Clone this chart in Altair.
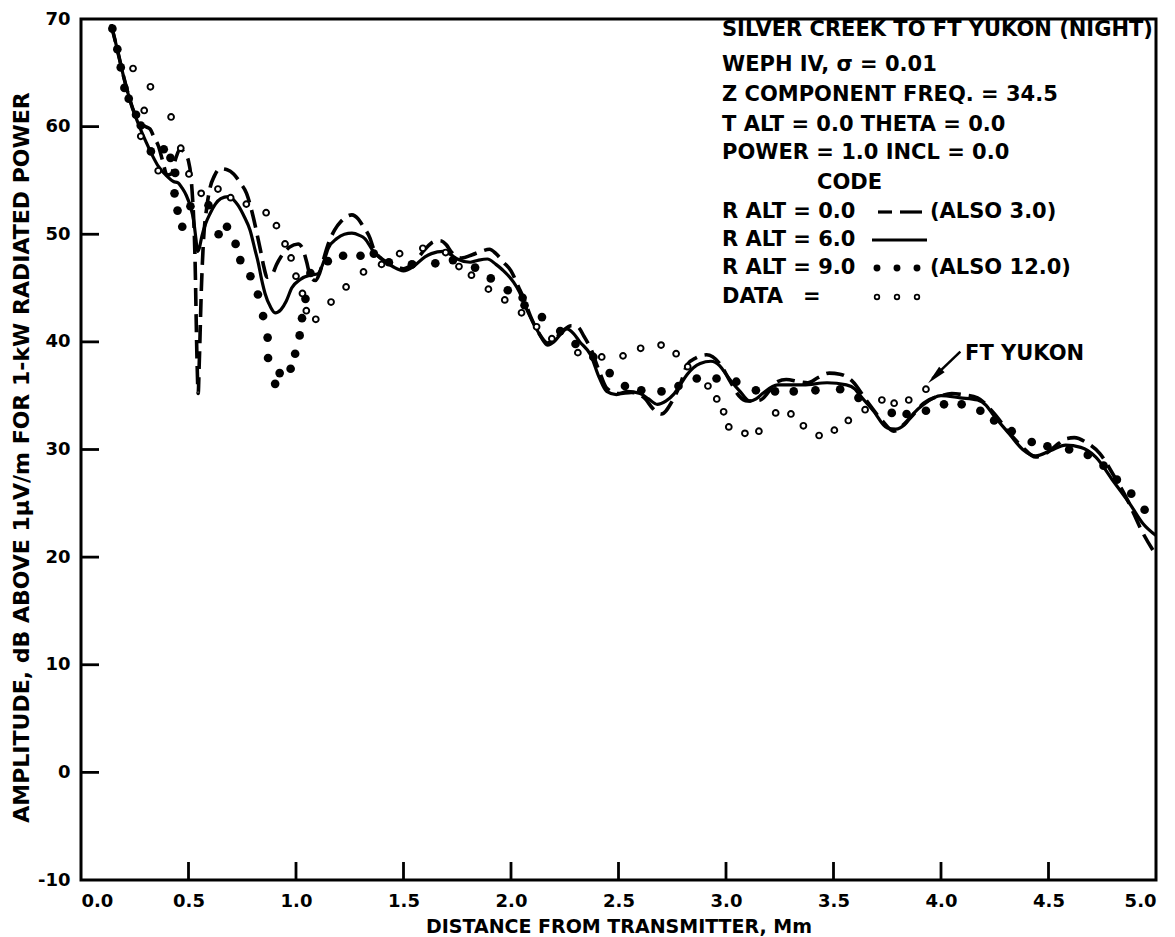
import altair as alt
import pandas as pd

# ---------------- data ----------------
# R ALT = 0.0 (dashed)
d0_x = [0.14, 0.16, 0.18, 0.20, 0.22, 0.24, 0.26, 0.28, 0.30, 0.32, 0.34, 0.36, 0.38, 0.40, 0.42,
        0.44, 0.46, 0.48, 0.50, 0.515, 0.53, 0.54, 0.545, 0.55, 0.56, 0.57, 0.585, 0.60, 0.62, 0.647,
        0.68, 0.71, 0.74, 0.77, 0.80, 0.82, 0.835, 0.85, 0.866, 0.89, 0.91, 0.93, 0.97, 1.01, 1.03,
        1.05, 1.065, 1.09, 1.11, 1.13, 1.15, 1.18, 1.21, 1.26, 1.29, 1.31, 1.345, 1.36, 1.40, 1.45,
        1.50, 1.55, 1.60, 1.64, 1.67, 1.70, 1.72, 1.77, 1.82, 1.86, 1.90, 1.93, 1.965, 2.00, 2.035,
        2.06, 2.09, 2.13, 2.17, 2.20, 2.24, 2.28, 2.31, 2.34, 2.37, 2.41, 2.445, 2.50, 2.56, 2.62,
        2.66, 2.70, 2.75, 2.79, 2.82, 2.86, 2.91, 2.97, 3.02, 3.06, 3.10, 3.16, 3.20, 3.24, 3.28,
        3.34, 3.38, 3.43, 3.48, 3.53, 3.59, 3.655, 3.73, 3.78, 3.82, 3.86, 3.92, 4.00, 4.05, 4.10,
        4.17, 4.24, 4.32, 4.38, 4.44, 4.50, 4.55, 4.58, 4.62, 4.68, 4.74, 4.80, 4.86, 4.94, 5.00]
d0_y = [69.5, 67.9, 66.2, 64.5, 63.0, 61.7, 60.8, 60.2, 60.0, 59.8, 59.0, 58.2, 56.8, 55.5, 55.6,
        57.0, 57.9, 57.6, 56.8, 54.5, 48.0, 38.0, 35.2, 38.0, 45.0, 49.5, 52.5, 54.3, 55.4, 56.1,
        56.0, 55.6, 54.8, 53.8, 51.7, 49.9, 48.5, 47.0, 46.0, 46.3, 47.2, 47.9, 48.8, 49.1, 48.7,
        47.4, 46.2, 45.7, 46.4, 47.8, 49.1, 50.4, 51.2, 51.8, 51.4, 50.8, 49.6, 48.7, 47.7, 47.2,
        46.8, 47.4, 48.6, 49.3, 49.4, 49.0, 48.4, 47.8, 48.1, 48.4, 48.6, 48.2, 47.4, 46.6, 45.1,
        44.0, 42.4, 40.8, 39.9, 40.2, 41.0, 41.5, 41.4, 40.5, 39.4, 37.3, 35.7, 35.2, 35.3, 34.8,
        33.8, 33.3, 34.5, 36.2, 37.9, 38.5, 38.8, 38.0, 36.3, 35.0, 34.5, 34.6, 35.4, 36.3, 36.5,
        36.3, 36.2, 36.7, 37.1, 37.0, 36.3, 34.5, 32.6, 31.7, 32.2, 33.0, 34.3, 35.0, 35.2, 35.1,
        34.8, 33.5, 31.5, 30.2, 29.3, 29.8, 30.6, 31.0, 31.1, 30.6, 29.6, 27.7, 25.6, 22.2, 20.2]

# R ALT = 6.0 (solid)
d6_x = [0.14, 0.16, 0.18, 0.20, 0.22, 0.24, 0.26, 0.28, 0.30, 0.33, 0.36, 0.40, 0.43, 0.45, 0.47,
        0.49, 0.51, 0.523, 0.535, 0.542, 0.55, 0.562, 0.58, 0.60, 0.625, 0.65, 0.685, 0.71, 0.73,
        0.76, 0.786, 0.81, 0.825, 0.84, 0.856, 0.88, 0.903, 0.93, 0.955, 0.98, 1.02, 1.065, 1.10,
        1.13, 1.15, 1.19, 1.225, 1.26, 1.295, 1.32, 1.36, 1.41, 1.45, 1.50, 1.546, 1.60, 1.63,
        1.685, 1.72, 1.75, 1.81, 1.85, 1.89, 1.93, 1.96, 2.01, 2.04, 2.06, 2.09, 2.13, 2.17, 2.20,
        2.23, 2.26, 2.29, 2.32, 2.37, 2.41, 2.445, 2.49, 2.54, 2.60, 2.64, 2.68, 2.72, 2.755, 2.79,
        2.82, 2.88, 2.93, 2.97, 3.00, 3.03, 3.065, 3.11, 3.14, 3.17, 3.24, 3.30, 3.36, 3.47, 3.56,
        3.60, 3.62, 3.685, 3.75, 3.79, 3.83, 3.87, 3.92, 4.00, 4.09, 4.17, 4.21, 4.24, 4.32, 4.38,
        4.44, 4.51, 4.58, 4.65, 4.72, 4.80, 4.88, 4.94, 5.00]
d6_y = [69.5, 67.9, 66.2, 64.5, 63.0, 61.7, 60.6, 59.6, 58.7, 57.4, 56.3, 55.4, 54.9, 54.8, 54.3,
        53.6, 52.5, 51.4, 49.5, 48.4, 48.7, 49.8, 51.0, 51.9, 52.8, 53.3, 53.5, 53.2, 52.7,
        51.6, 50.4, 48.5, 47.3, 45.8, 44.5, 43.3, 42.7, 43.0, 43.8, 45.0, 45.8, 46.2, 46.3,
        47.5, 48.7, 49.6, 50.0, 50.1, 49.9, 49.6, 48.4, 47.5, 47.0, 46.6, 47.0, 47.9, 48.2,
        48.4, 48.1, 47.7, 47.4, 47.6, 47.7, 47.2, 46.7, 45.6, 44.6, 43.6, 42.3, 40.8, 39.7, 40.0,
        40.7, 41.2, 40.8, 40.0, 38.8, 36.7, 35.4, 35.1, 35.4, 35.2, 34.7, 34.2, 34.5, 35.1, 36.1,
        37.0, 38.0, 38.2, 37.8, 37.0, 36.2, 35.4, 34.5, 34.7, 35.2, 36.0, 36.0, 36.0, 36.2, 36.0,
        35.6, 35.1, 33.6, 32.0, 31.9, 32.3, 33.3, 34.2, 35.0, 34.8, 34.6, 34.1, 33.3, 31.4, 30.0,
        29.4, 29.9, 30.4, 30.2, 29.3, 27.1, 24.9, 23.1, 22.0]

# R ALT = 9.0 (filled dots)
d9_x = [0.146, 0.169, 0.185, 0.202, 0.222, 0.256, 0.278, 0.325, 0.385, 0.416, 0.438, 0.435, 0.449,
        0.471, 0.509, 0.593, 0.640, 0.679, 0.719, 0.741, 0.788, 0.823, 0.847, 0.868, 0.870, 0.903,
        0.924, 0.975, 0.996, 1.017, 1.028, 1.044, 1.067, 1.148, 1.219, 1.300, 1.362, 1.432, 1.539,
        1.648, 1.730, 1.833, 1.906, 1.985, 2.054, 2.063, 2.144, 2.229, 2.300, 2.383, 2.459, 2.530,
        2.606, 2.700, 2.779, 2.864, 2.956, 3.048, 3.139, 3.228, 3.315, 3.416, 3.531, 3.616, 3.771,
        3.840, 3.930, 4.014, 4.096, 4.183, 4.247, 4.329, 4.422, 4.495, 4.596, 4.683, 4.756, 4.818,
        4.885, 4.947]
d9_y = [69.1, 67.2, 65.5, 63.6, 62.6, 61.1, 60.1, 57.7, 57.9, 57.1, 55.7, 53.8, 52.2,
        50.7, 52.6, 52.7, 50.0, 50.7, 49.1, 47.6, 46.1, 44.4, 42.4, 40.4, 38.5, 36.1,
        37.1, 37.5, 38.9, 40.6, 42.2, 44.0, 46.4, 47.5, 48.0, 48.0, 48.2, 47.4, 47.2,
        47.3, 47.6, 46.9, 45.9, 44.8, 44.1, 43.4, 42.3, 41.0, 39.8, 38.6, 37.1, 35.9,
        35.5, 35.4, 35.9, 36.6, 36.6, 36.3, 35.5, 35.4, 35.4, 35.5, 35.6, 34.8, 33.4,
        33.3, 33.6, 34.2, 34.2, 33.6, 32.7, 31.7, 30.7, 30.3, 30.0, 29.5, 28.5, 27.2,
        25.9, 24.4]

# DATA (open circles)
obs_x = [0.242, 0.323, 0.294, 0.419, 0.278, 0.464, 0.359, 0.502, 0.559, 0.637, 0.696, 0.769, 0.861,
         0.909, 0.949, 0.977, 1.000, 1.030, 1.048, 1.092, 1.163, 1.233, 1.314, 1.398, 1.482, 1.590,
         1.696, 1.758, 1.816, 1.895, 1.971, 2.049, 2.119, 2.190, 2.311, 2.422, 2.521, 2.603, 2.698,
         2.768, 2.822, 2.916, 2.957, 2.989, 3.013, 3.088, 3.153, 3.231, 3.302, 3.360, 3.433, 3.504,
         3.569, 3.647, 3.725, 3.782, 3.850, 3.930]
obs_y = [65.4, 63.7, 61.5, 60.9, 59.1, 58.0, 55.9, 55.6, 53.8, 54.2, 53.4, 52.8, 52.0,
         50.8, 49.1, 47.8, 46.1, 44.5, 42.9, 42.1, 43.7, 45.1, 46.5, 47.2, 48.2, 48.7,
         48.3, 47.0, 46.2, 44.9, 43.9, 42.7, 41.4, 40.3, 39.0, 38.6, 38.7, 39.4, 39.7,
         38.9, 37.7, 35.9, 34.7, 33.5, 32.1, 31.5, 31.7, 33.4, 33.3, 32.2, 31.3, 31.8,
         32.7, 33.7, 34.6, 34.3, 34.6, 35.6]

x_ticks = [0.5, 1.0, 1.5, 2.0, 2.5, 3.0, 3.5, 4.0, 4.5]
y_ticks = [0, 10, 20, 30, 40, 50, 60]

legend_lines = [
    "SILVER CREEK TO FT YUKON (NIGHT)",
    "WEPH IV, \u03c3 = 0.01",
    "Z COMPONENT FREQ. = 34.5",
    "T ALT = 0.0 THETA = 0.0",
    "POWER = 1.0 INCL = 0.0",
]

# ---------------- layout ----------------
W, H = 1075, 861
FONT = "DejaVu Sans"

xs = alt.Scale(domain=[0, 5], nice=False, zero=False)
ys = alt.Scale(domain=[-10, 70], nice=False, zero=False)
ax_x = alt.Axis(values=[0, 0.5, 1, 1.5, 2, 2.5, 3, 3.5, 4, 4.5, 5], format=".1f",
                title="DISTANCE FROM TRANSMITTER, Mm", labelPadding=12,
                titleX=W / 2, titleY=46, titleBaseline="middle")
ax_y = alt.Axis(values=[-10, 0, 10, 20, 30, 40, 50, 60, 70], labelExpr="'' + datum.value",
                title="AMPLITUDE, dB ABOVE 1\u00b5V/m FOR 1-kW RADIATED POWER", labelPadding=11,
                titleX=-60, titleY=438, titleAngle=270, titleBaseline="middle",
                titleFontSize=22, titleFontWeight="bold")


def X(f="x"):
    return alt.X(f"{f}:Q", scale=xs, axis=ax_x)


def Y(f="y"):
    return alt.Y(f"{f}:Q", scale=ys, axis=ax_y)


df0 = pd.DataFrame({"x": d0_x, "y": d0_y})
df6 = pd.DataFrame({"x": d6_x, "y": d6_y})
df9 = pd.DataFrame({"x": d9_x, "y": d9_y})
dfo = pd.DataFrame({"x": obs_x, "y": obs_y})
one = pd.DataFrame({"a": [0]})

dashed = alt.Chart(df0).mark_line(color="black", strokeWidth=3.6, strokeDash=[18, 8],
                                  interpolate="monotone").encode(x=X(), y=Y())
solid = alt.Chart(df6).mark_line(color="black", strokeWidth=3.2,
                                 interpolate="monotone").encode(x=X(), y=Y())
dots = alt.Chart(df9).mark_point(shape="circle", filled=True, color="black", size=75,
                                 opacity=1).encode(x=X(), y=Y())
circles = alt.Chart(dfo).mark_point(shape="circle", filled=True, fill="white", stroke="black",
                                    strokeWidth=1.9, size=34, opacity=1).encode(x=X(), y=Y())

xt = alt.Chart(pd.DataFrame({"x": x_ticks})).mark_rule(color="black", strokeWidth=2.8).encode(
    x=X(), y=alt.value(H), y2=alt.value(H - 18))
yt = alt.Chart(pd.DataFrame({"y": y_ticks})).mark_rule(color="black", strokeWidth=2.8).encode(
    y=Y(), x=alt.value(0), x2=alt.value(18))

TS = 21


def txt(s, x, y, size=TS, align="left"):
    return alt.Chart(one).mark_text(text=s, font=FONT, fontSize=size, fontWeight="bold",
                                    align=align, baseline="middle", color="black").encode(
        x=alt.value(x), y=alt.value(y))


LX = 641
rows_y = [11, 46, 76, 106, 134]
ann = [txt(s, LX, yy) for s, yy in zip(legend_lines, rows_y)]
ann += [
    txt("CODE", 736, 164),
    txt("R ALT = 0.0", LX, 193),
    txt("(ALSO 3.0)", 849, 193),
    txt("R ALT = 6.0", LX, 221),
    txt("R ALT = 9.0", LX, 249),
    txt("(ALSO 12.0)", 849, 249),
    txt("DATA", LX, 278),
    txt("=", 722, 278),
]
# FT YUKON label in data coordinates
ann.append(alt.Chart(pd.DataFrame({"x": [4.112], "y": [38.9]})).mark_text(
    text="FT YUKON", font=FONT, fontSize=TS, fontWeight="bold", align="left",
    baseline="middle", color="black").encode(x=X(), y=Y()))

# legend symbols
leg = [
    alt.Chart(one).mark_rule(color="black", strokeWidth=3.2).encode(
        x=alt.value(797), x2=alt.value(811), y=alt.value(193)),
    alt.Chart(one).mark_rule(color="black", strokeWidth=3.2).encode(
        x=alt.value(819), x2=alt.value(841), y=alt.value(193)),
    alt.Chart(one).mark_rule(color="black", strokeWidth=3.2).encode(
        x=alt.value(791), x2=alt.value(846), y=alt.value(221)),
]
for cx in (796, 816, 836):
    leg.append(alt.Chart(one).mark_point(shape="circle", filled=True, color="black", size=48,
                                         opacity=1).encode(x=alt.value(cx), y=alt.value(249)))
    leg.append(alt.Chart(one).mark_point(shape="circle", filled=True, fill="white",
                                         stroke="black", strokeWidth=1.7, size=22,
                                         opacity=1).encode(x=alt.value(cx), y=alt.value(278)))

# arrow to FT YUKON
arrow = alt.Chart(pd.DataFrame({"x": [4.09], "y": [39.1], "x2": [3.96], "y2": [36.6]})).mark_rule(
    color="black", strokeWidth=2.5).encode(x=X(), y=Y(), x2="x2:Q", y2="y2:Q")
head = alt.Chart(pd.DataFrame({"x": [3.972], "y": [36.8]})).mark_point(
    shape="M0,-1L0.4,1L-0.4,1Z", filled=True, color="black", size=380, angle=225,
    opacity=1).encode(x=X(), y=Y())

chart = alt.layer(xt, yt, solid, dashed, dots, circles, arrow, head, *leg, *ann).properties(
    width=W, height=H,
    padding={"left": 73, "top": 11, "right": 10, "bottom": 75},
    autosize=alt.AutoSizeParams(type="none"),
).configure_view(stroke="black", strokeWidth=3).configure_axis(
    grid=False, domain=False, ticks=False,
    labelFont=FONT, labelFontSize=18, labelFontWeight="bold", labelColor="black",
    titleFont=FONT, titleFontSize=19, titleFontWeight="bold", titleColor="black",
)

chart.save("out.html", embed_options={"renderer": "svg", "actions": False})
